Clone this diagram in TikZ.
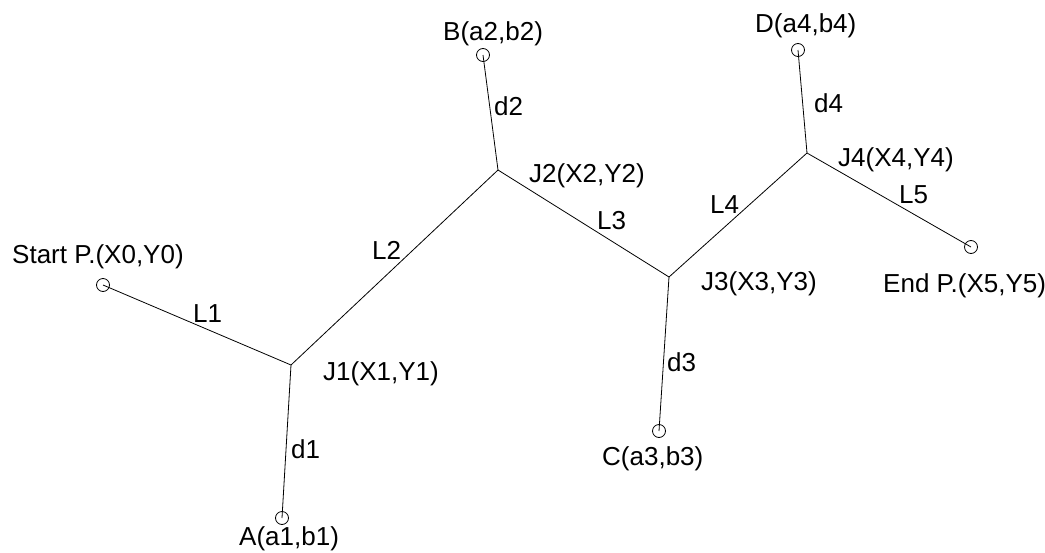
\documentclass[tikz,border=0pt]{standalone}
\usepackage{fontspec}
\setmainfont{Liberation Sans}
\begin{document}
\begin{tikzpicture}[x=1pt,y=-1pt,
  lbl/.style={anchor=base west,inner sep=0pt,font=\fontsize{26}{31}\selectfont},
  endpt/.style={circle,draw,line width=0.8pt,minimum size=13pt,inner sep=0pt},
  seg/.style={line width=0.8pt}]
\useasboundingbox (0,0) rectangle (1045,552);
% junctions
\coordinate (J1) at (291,365);
\coordinate (J2) at (498,170);
\coordinate (J3) at (669,277);
\coordinate (J4) at (807,153);
% end points
\node[endpt] (S) at (103,285) {};
\node[endpt] (A) at (282,518) {};
\node[endpt] (B) at (483,55) {};
\node[endpt] (C) at (659,431) {};
\node[endpt] (D) at (798,50) {};
\node[endpt] (E) at (971,247) {};
% connectors
\draw[seg] (S.center) -- (J1) -- (J2) -- (J3) -- (J4) -- (E.center);
\draw[seg] (J1) -- (A.center);
\draw[seg] (J2) -- (B.center);
\draw[seg] (J3) -- (C.center);
\draw[seg] (J4) -- (D.center);
% labels
\node[lbl] (tS) at (12,263) {Start P.(X0,Y0)};
\node[lbl] (tL1) at (193,322) {L1};
\node[lbl] (tA) at (239,545) {A(a1,b1)};
\node[lbl] (td1) at (291,458) {d1};
\node[lbl] (tL2) at (372,259) {L2};
\node[lbl] (tJ1) at (323,380) {J1(X1,Y1)};
\node[lbl] (tB) at (443,40) {B(a2,b2)};
\node[lbl] (td2) at (494,115) {d2};
\node[lbl] (tJ2) at (529,182) {J2(X2,Y2)};
\node[lbl] (tL3) at (597,229) {L3};
\node[lbl] (tL4) at (710,213) {L4};
\node[lbl] (tJ3) at (701,290) {J3(X3,Y3)};
\node[lbl] (td3) at (667,371) {d3};
\node[lbl] (tC) at (602,465) {C(a3,b3)};
\node[lbl] (tD) at (755,32) {D(a4,b4)};
\node[lbl] (td4) at (814,112) {d4};
\node[lbl] (tJ4) at (838,166) {J4(X4,Y4)};
\node[lbl] (tL5) at (899,203) {L5};
\node[lbl] (tE) at (883,292) {End P.(X5,Y5)};
\end{tikzpicture}
\end{document}
